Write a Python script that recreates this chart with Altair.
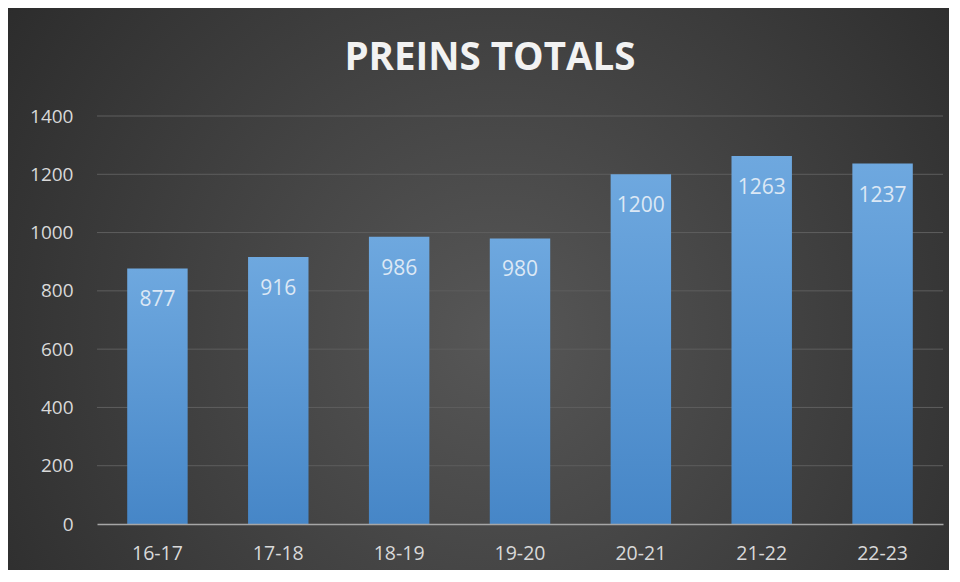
import altair as alt
import pandas as pd

seasons = ["16-17", "17-18", "18-19", "19-20", "20-21", "21-22", "22-23"]
totals = [877, 916, 986, 980, 1200, 1263, 1237]
y_ticks = [0, 200, 400, 600, 800, 1000, 1200, 1400]
title_text = "PREINS TOTALS"

df = pd.DataFrame({"season": seasons, "total": totals})
grid_df = pd.DataFrame({"tick": y_ticks[1:]})

W, H = 846, 408
PL, PT, PR, PB = 89, 108, 6, 46
FONT = "Open Sans"

y_scale = alt.Scale(domain=[0, 1400], nice=False)

x_enc = alt.X("season:N", sort=seasons,
              scale=alt.Scale(paddingInner=0.5, paddingOuter=0.25),
              axis=alt.Axis(title=None, labelAngle=0, labelFontSize=19.5, labelFont=FONT,
                            labelColor="#d9d9d9", labelPadding=20, ticks=False,
                            domainColor="#a6a6a6", domainWidth=1.5, grid=False, zindex=1))
y_enc = alt.Y("total:Q", scale=y_scale,
              axis=alt.Axis(title=None, values=y_ticks, format="d", labelFontSize=19,
                            labelFont=FONT, labelColor="#d9d9d9", labelPadding=24,
                            ticks=False, domain=False, grid=False, zindex=1))

bg = alt.Chart(pd.DataFrame({"k": [0]})).mark_rect(
    clip=False,
    color=alt.Gradient(gradient="radial",
                       stops=[alt.GradientStop(color="#575757", offset=0),
                              alt.GradientStop(color="#262626", offset=1)],
                       x1=0.52, y1=0.55, r1=0, x2=0.52, y2=0.55, r2=0.72),
).encode(x=alt.value(-PL), x2=alt.value(W + PR), y=alt.value(-PT), y2=alt.value(H + PB))

grid = alt.Chart(grid_df).mark_rule(color="#5e5e5e", strokeWidth=1).encode(
    y=alt.Y("tick:Q", scale=y_scale), x=alt.value(0), x2=alt.value(W))

base = alt.Chart(df)

bars = base.mark_bar(
    color=alt.Gradient(gradient="linear",
                       stops=[alt.GradientStop(color="#6ea8df", offset=0),
                              alt.GradientStop(color="#4686c7", offset=1)],
                       x1=0, x2=0, y1=0, y2=1),
).encode(x=x_enc, y=y_enc)

labels = base.mark_text(baseline="top", dy=21, fontSize=21, font=FONT, color="#dce8f5").encode(
    x=alt.X("season:N", sort=seasons), y="total:Q", text="total:Q")

title_df = pd.DataFrame({"t": [title_text]})
title = alt.Chart(title_df).mark_text(
    fontSize=38.5, fontWeight="bold", font=FONT, color="#f2f2f2", baseline="middle"
).encode(x=alt.value(393), y=alt.value(-58), text="t:N")

chart = alt.layer(bg, grid, bars, labels, title).properties(
    width=W, height=H,
    autosize=alt.AutoSizeParams(type="none"),
    padding={"left": PL, "top": PT, "right": PR, "bottom": PB},
    background="#2b2b2b",
).configure_view(stroke=None)

chart.save("out.html", embed_options={"renderer": "svg", "actions": False})
